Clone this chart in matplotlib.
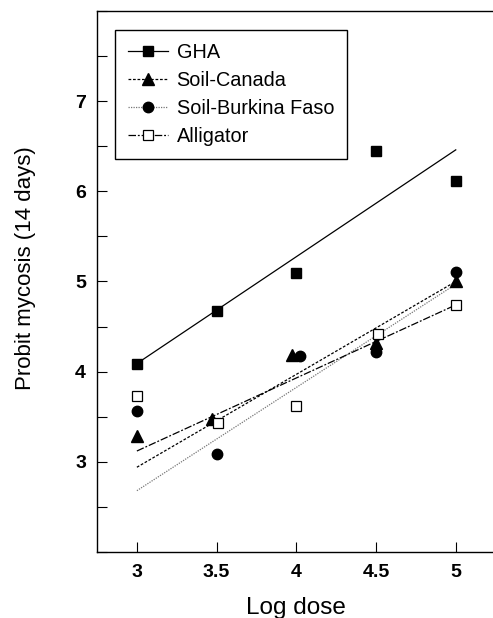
import matplotlib
matplotlib.use("Agg")
import matplotlib.pyplot as plt
from matplotlib.lines import Line2D
import numpy as np

plt.rcParams['font.family'] = ['Liberation Sans', 'DejaVu Sans']

# ---- data ----
series = ["GHA", "Soil-Canada", "Soil-Burkina Faso", "Alligator"]

gha_x = [3.0, 3.5, 4.0, 4.5, 5.0]
gha_y = [4.08, 4.67, 5.09, 6.45, 6.12]

canada_x = [3.0, 3.47, 3.97, 4.5, 5.0]
canada_y = [3.29, 3.47, 4.19, 4.32, 5.01]

burkina_x = [3.0, 3.5, 4.02, 4.5, 5.0]
burkina_y = [3.56, 3.09, 4.17, 4.22, 5.11]

alligator_x = [3.0, 3.51, 4.0, 4.51, 5.0]
alligator_y = [3.73, 3.43, 3.62, 4.42, 4.74]

# fitted probit lines (value at log dose 3 and 5)
fit_x = [3.0, 5.0]
gha_fit = [4.09, 6.46]
canada_fit = [2.94, 5.00]
burkina_fit = [2.68, 4.97]
alligator_fit = [3.12, 4.74]

x_ticks = [3, 3.5, 4, 4.5, 5]
x_ticklabels = ["3", "3.5", "4", "4.5", "5"]
y_ticks = [2, 2.5, 3, 3.5, 4, 4.5, 5, 5.5, 6, 6.5, 7, 7.5, 8]
y_ticklabels = ["", "", "3", "", "4", "", "5", "", "6", "", "7", "", ""]

# ---- figure ----
fig = plt.figure(figsize=(4.93, 6.18), dpi=100)
ax = fig.add_axes([0.1968, 0.1068, 0.8085, 0.8754])

styles = {
    "GHA": dict(ls='-', color='black', lw=0.9, marker='s', mfc='black', mec='black', ms=7),
    "Soil-Canada": dict(ls=(0, (2.2, 1.4)), color='black', lw=0.9, marker='^', mfc='black', mec='black', ms=8.5),
    "Soil-Burkina Faso": dict(ls=(0, (1, 1)), color='#777777', lw=0.9, marker='o', mfc='black', mec='black', ms=7.5),
    "Alligator": dict(ls=(0, (6, 1.5, 1.5, 1.5)), color='black', lw=0.9, marker='s', mfc='white', mec='black', ms=7, mew=0.9),
}

data = [
    ("GHA", gha_x, gha_y, gha_fit),
    ("Soil-Canada", canada_x, canada_y, canada_fit),
    ("Soil-Burkina Faso", burkina_x, burkina_y, burkina_fit),
    ("Alligator", alligator_x, alligator_y, alligator_fit),
]

handles = []
for name, xs, ys, fit in data:
    st = styles[name]
    ax.plot(fit_x, fit, ls=st['ls'], color=st['color'], lw=st['lw'], zorder=2)
    ax.plot(xs, ys, ls='none', marker=st['marker'], mfc=st['mfc'], mec=st['mec'],
            ms=st['ms'], mew=st.get('mew', 1.0), zorder=3)
    handles.append(Line2D([0], [0], ls=st['ls'], color=st['color'], lw=st['lw'],
                          marker=st['marker'], mfc=st['mfc'], mec=st['mec'],
                          ms=st['ms'], mew=st.get('mew', 1.0)))

ax.set_xlim(2.75, 5.25)
ax.set_ylim(2, 8)
ax.set_xticks(x_ticks)
ax.set_xticklabels(x_ticklabels, fontsize=14, fontweight='bold')
ax.set_yticks(y_ticks)
ax.set_yticklabels(y_ticklabels, fontsize=14, fontweight='bold')
ax.tick_params(direction='in', length=7, width=0.8)
ax.tick_params(axis='x', pad=9)
ax.tick_params(axis='y', pad=8)

for s in ['left', 'bottom', 'top']:
    ax.spines[s].set_linewidth(1.0)
ax.spines['right'].set_visible(False)

ax.set_xlabel("Log dose", fontsize=17.5, labelpad=11)
ax.set_ylabel("Probit mycosis (14 days)", fontsize=16)
ax.yaxis.set_label_coords(-0.152, 0.524)

leg = ax.legend(handles, series, loc='upper left', bbox_to_anchor=(0.045, 0.965),
                borderaxespad=0, fontsize=14.3, frameon=True, fancybox=False,
                edgecolor='black', handlelength=2.0, handletextpad=0.45,
                labelspacing=0.45, borderpad=0.65, numpoints=1, framealpha=1)
leg.get_frame().set_linewidth(1.0)

fig.savefig("out.png", dpi=100)
